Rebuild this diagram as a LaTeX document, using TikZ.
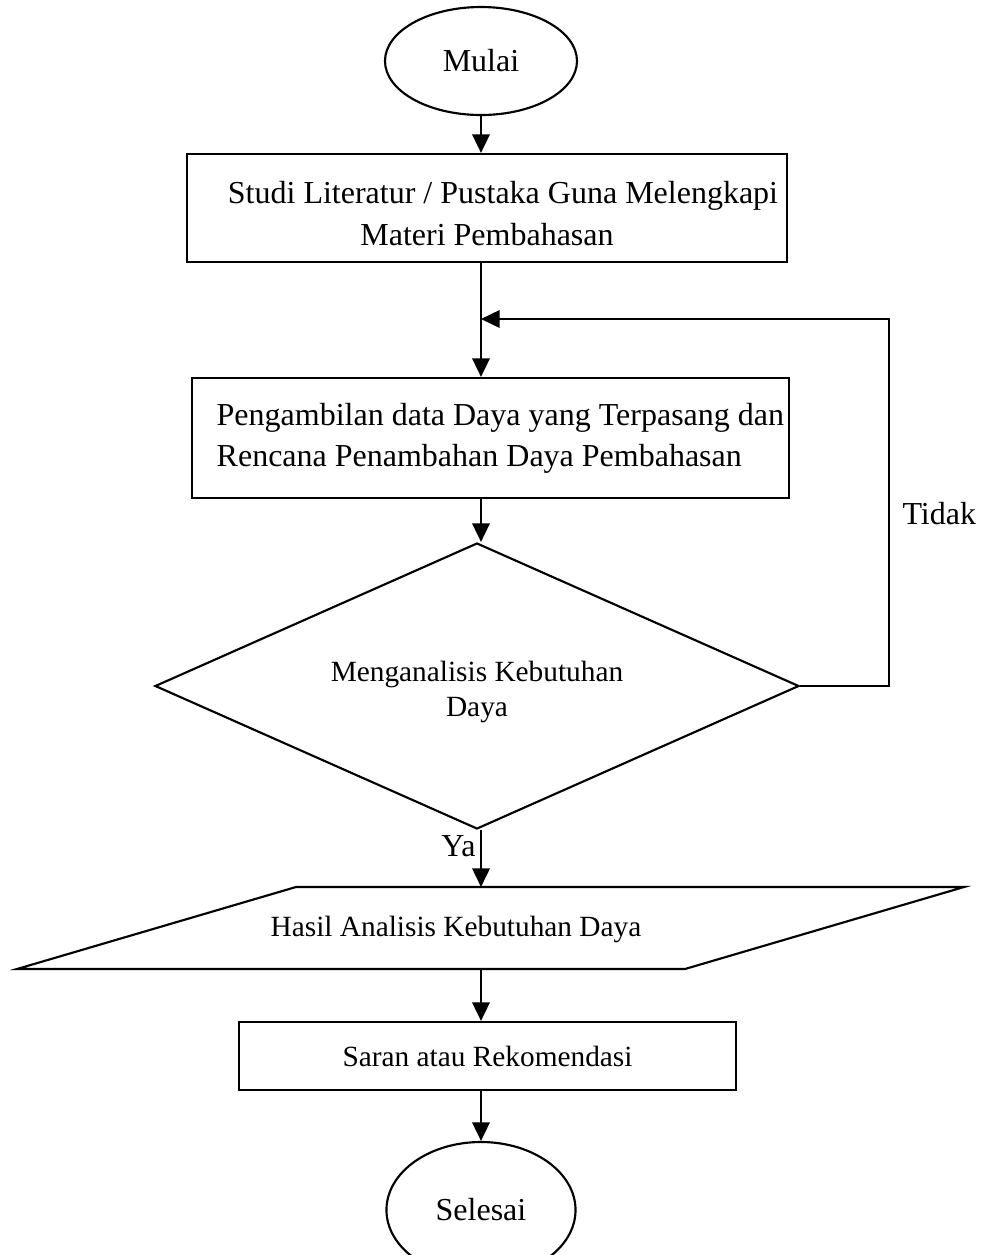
\documentclass[tikz,border=0pt]{standalone}
\usepackage{fontspec}
\setmainfont{Liberation Serif}
\usetikzlibrary{shapes.geometric, arrows.meta, calc}

\begin{document}
\begin{tikzpicture}[x=0.375pt, y=-0.375pt,
		terminal/.style={draw, ellipse, line width=0.8pt, inner sep=0pt, font=\fontsize{12}{15.4}\selectfont},
		prosesbox/.style={draw, rectangle, line width=0.8pt, inner sep=0pt, font=\fontsize{12}{15.4}\selectfont},
		keputusan/.style={draw, diamond, line width=0.8pt, inner sep=0pt, font=\fontsize{11}{13.1}\selectfont},
		panah/.style={-{Triangle[length=7pt, width=6.5pt]}, line width=1pt},
		teks/.style={inner sep=0pt, font=\fontsize{12}{15.4}\selectfont}]
	\useasboundingbox (0,0) rectangle (981,1255);
	%% nodes, positions in pixels of the page
	\node[terminal, minimum width=72pt, minimum height=40.5pt] (mulai) at (481,61) {Mulai};
	\node[prosesbox, minimum width=225pt, minimum height=40.5pt, align=center] (studi) at (487,208) {\rule{0pt}{12.5pt}\hspace*{1em}Studi Literatur / Pustaka Guna Melengkapi\\Materi Pembahasan};
	\node[prosesbox, minimum width=223.9pt, minimum height=45pt, align=left] (ambil) at (490.5,438) {\hspace*{7.4pt}Pengambilan data Daya yang Terpasang dan\\\hspace*{7.4pt}Rencana Penambahan Daya Pembahasan};
	\node[keputusan, minimum width=241.5pt, minimum height=107.25pt, shape aspect=2.25, align=center] (analisis) at (477,686) {\rule{0pt}{12pt}Menganalisis Kebutuhan\\Daya};
	\node[teks, font=\fontsize{11}{13.1}\selectfont] (hasil) at (456,929) {Hasil Analisis Kebutuhan Daya};
	\path ($(hasil)+(-160,-42)$) coordinate (hasilNW) ($(hasil)+(508,-42)$) coordinate (hasilNE)
		($(hasil)+(229,40)$) coordinate (hasilSE) ($(hasil)+(-439,40)$) coordinate (hasilSW);
	\draw[line width=0.8pt] (hasilNW) -- (hasilNE) -- (hasilSE) -- (hasilSW) -- cycle;
	\node[prosesbox, minimum width=186.4pt, minimum height=25.5pt, font=\fontsize{11}{13.1}\selectfont] (saran) at (487.5,1056) {Saran atau Rekomendasi};
	\node[terminal, minimum width=70.9pt, minimum height=51pt] (selesai) at (481,1210) {Selesai};
	
	%% arrows
	\draw[panah] (mulai.south) -- (mulai.south |- studi.north);
	\draw[panah] (mulai.south |- studi.south) -- (mulai.south |- ambil.north);
	\draw[panah] (mulai.south |- ambil.south) -- (mulai.south |- analisis.north);
	\draw[panah] (mulai.south |- analisis.south) -- (mulai.south |- hasilNW);
	\draw[panah] (mulai.south |- hasilSW) -- (mulai.south |- saran.north);
	\draw[panah] (mulai.south |- saran.south) -- (selesai.north);
	\coordinate (balik) at (889,319);
	\draw[panah] (analisis.east) -| (balik) -- (mulai.south |- balik);
	\node[teks, anchor=west] (tidak) at (902,514) {Tidak};
	\node[teks, anchor=east] (ya) at (476,846) {Ya};
\end{tikzpicture}
\end{document}
